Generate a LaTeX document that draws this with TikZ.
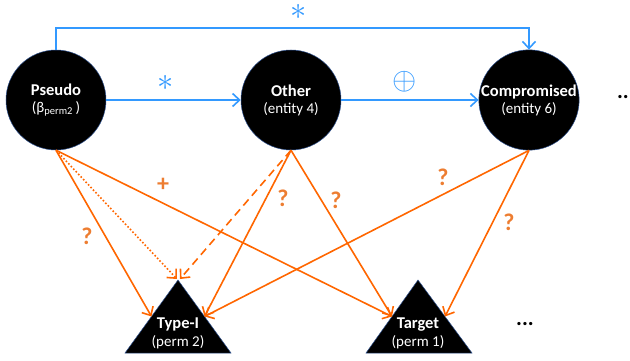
\documentclass[tikz,border=0pt]{standalone}
\usepackage{graphicx}
\usepackage{fontspec}
\setmainfont{Carlito}
\usetikzlibrary{arrows.meta,calc}
\definecolor{linkblue}{RGB}{51,153,255}
\definecolor{linkorange}{RGB}{255,102,0}
\definecolor{tagorange}{RGB}{237,125,49}
\definecolor{rimblue}{RGB}{47,82,143}
\newcommand{\starmark}{\scalebox{1.3}{$\ast$}}
\newcommand{\xormark}{\scalebox{1.25}{$\oplus$}}
\begin{document}
\begin{tikzpicture}[x=1pt,y=-1pt,
  entity/.style={circle,fill=black,draw=rimblue,line width=0.5pt,minimum size=100pt,inner sep=0pt,
    text=white,align=center,font=\fontsize{15}{17}\selectfont},
  perm/.style={fill=black,draw=rimblue,line width=0.5pt},
  permtext/.style={text=white,align=center,font=\fontsize{15}{18}\selectfont},
  blink/.style={draw=linkblue,line width=1.6pt,-{Straight Barb[length=7pt,width=13pt]}},
  olink/.style={draw=linkorange,line width=1.6pt,-{Straight Barb[length=7pt,width=13pt]}},
  btag/.style={text=linkblue,inner sep=0pt,font=\fontsize{24}{24}\selectfont},
  otag/.style={text=tagorange,inner sep=0pt,font=\bfseries\fontsize{24}{24}\selectfont},
  more/.style={inner sep=0pt,font=\bfseries\fontsize{22}{22}\selectfont},
]
\useasboundingbox (0,0) rectangle (630,361);

% entities
\node[entity] (p) at (56,100) {{\bfseries\fontsize{16.5}{18}\selectfont Pseudo}\\(β\textsubscript{perm2}\,)};
\node[entity] (o) at (291,100) {{\bfseries\fontsize{16.5}{18}\selectfont Other}\\(entity 4)};
\node[entity] (c) at (529,100) {{\bfseries\fontsize{16.5}{18}\selectfont Compromised}\\(entity 6)};
\node[more,anchor=east] (dotsr) at (629,97) {..};

% permissions (triangles)
\coordinate (t1apex) at (178,280);
\coordinate (t1l) at (125,353);
\coordinate (t1r) at (231,353);
\coordinate (t2apex) at (418,280);
\coordinate (t2l) at (366,353);
\coordinate (t2r) at (472,353);
\path[perm] (t1apex) -- (t1l) -- (t1r) -- cycle;
\path[perm] (t2apex) -- (t2l) -- (t2r) -- cycle;
\node[permtext] (t1) at (178,333) {{\bfseries\fontsize{16.5}{18}\selectfont Type-I}\\(perm 2)};
\node[permtext] (t2) at (418,333) {{\bfseries\fontsize{16.5}{18}\selectfont Target}\\(perm 1)};
\node[more] (dotsb) at (525,324) {...};

\coordinate (t1lm) at ($(t1apex)!0.5!(t1l)$);
\coordinate (t1rm) at ($(t1apex)!0.5!(t1r)$);
\coordinate (t2lm) at ($(t2apex)!0.5!(t2l)$);
\coordinate (t2rm) at ($(t2apex)!0.5!(t2r)$);

% blue links between entities
\draw[blink] (p.east) -- (o.west);
\draw[blink] (o.east) -- (c.west);
\draw[blink] (p.north) -- ++(0,-22) -| (c.north);
\node[btag] (s1) at (299,11.5) {\starmark};
\node[btag] (s2) at (165.5,83) {\starmark};
\node[btag] (s3) at (405,81.5) {\xormark};

% orange links to permissions
\draw[olink] (p.south) -- (t1lm);
\draw[olink,dotted] (p.south) -- ($(t1apex)+(-1,-1)$);
\draw[olink] (p.south) -- (t2lm);
\draw[olink,dashed,dash pattern=on 8pt off 5pt] (o.south) -- ($(t1apex)+(2,-1)$);
\draw[olink] (o.south) -- (t1rm);
\draw[olink] (o.south) -- (t2lm);
\draw[olink] (c.south) -- (t1rm);
\draw[olink] (c.south) -- (t2rm);

\node[otag] (q1) at (87,236) {?};
\node[otag] (q2) at (163,185) {+};
\node[otag] (q3) at (283,198) {?};
\node[otag] (q4) at (336,200) {?};
\node[otag] (q5) at (443,177) {?};
\node[otag] (q6) at (509,222) {?};
\end{tikzpicture}
\end{document}
